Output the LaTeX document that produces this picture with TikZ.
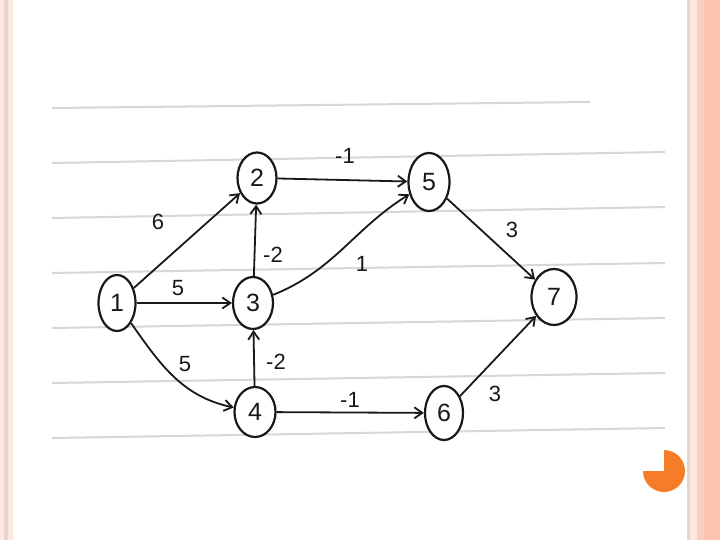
\documentclass[tikz,border=0pt]{standalone}
\usepackage{fontspec}
\setmainfont{Liberation Sans}
\usetikzlibrary{shapes.geometric,arrows.meta}
\definecolor{salmon}{RGB}{251,196,176}
\definecolor{palepink}{RGB}{253,232,224}
\definecolor{stripe}{RGB}{232,212,206}
\definecolor{rule}{RGB}{215,215,215}
\definecolor{pie}{RGB}{245,125,40}
\definecolor{ink}{RGB}{25,25,25}
\tikzset{
  vert/.style={draw=ink, line width=2.2pt, ellipse, inner sep=0pt, font=\fontsize{25}{27}\selectfont, text=ink, fill=white},
  edge/.style={draw=ink, line width=1.8pt, -{Straight Barb[length=8pt,width=11pt]}},
  wlab/.style={font=\fontsize{22}{24}\selectfont, text=ink},
  ruled/.style={draw=rule, line width=2pt}
}
\begin{document}
\begin{tikzpicture}[x=1pt,y=-1pt]
\useasboundingbox (0,0) rectangle (720,540);
\fill[white] (0,0) rectangle (720,540);
% borders
\fill[palepink] (0,0) rectangle (13,540);
\fill[stripe] (4,0) rectangle (8,540);
\fill[stripe] (687,0) rectangle (690,540);
\fill[palepink] (690,0) rectangle (697,540);
\fill[salmon!80!white] (697,0) rectangle (704,540);
\fill[salmon] (704,0) rectangle (720,540);
% ruled lines
\draw[ruled] (52,108) -- (590,102);
\draw[ruled] (52,163) -- (665,152);
\draw[ruled] (52,218) -- (665,207);
\draw[ruled] (52,273) -- (665,263);
\draw[ruled] (52,328) -- (665,318);
\draw[ruled] (52,383) -- (665,373);
\draw[ruled] (52,438) -- (665,428);
% pie
\fill[pie] (664,471) -- ++(0,-21) arc[start angle=-90, end angle=180, radius=21] -- cycle;
% nodes
\node[vert, minimum width=37pt, minimum height=56pt] (n1) at (117,303) {1};
\node[vert, minimum width=39pt, minimum height=51pt] (n2) at (257,178) {2};
\node[vert, minimum width=40pt, minimum height=52pt] (n3) at (253,303) {3};
\node[vert, minimum width=41pt, minimum height=50pt] (n4) at (255,412) {4};
\node[vert, minimum width=41pt, minimum height=58pt] (n5) at (429,182) {5};
\node[vert, minimum width=38pt, minimum height=54pt] (n6) at (444,413) {6};
\node[vert, minimum width=45pt, minimum height=56pt] (n7) at (554,297) {7};
% edges
\draw[edge] (n1) -- (n2);
\draw[edge] (n1) -- (n3);
\draw[edge] (n1) to[out=-55,in=168] (n4);
\draw[edge] (n3) -- (n2);
\draw[edge] (n4) -- (n3);
\draw[edge] (n2) -- (n5);
\draw[edge] (n3) to[out=22,in=-148] (n5);
\draw[edge] (n4) -- (n6);
\draw[edge] (n5) -- (n7);
\draw[edge] (n6) -- (n7);
% labels
\node[wlab] (l12) at (158,222) {6};
\node[wlab] (l13) at (178,288) {5};
\node[wlab] (l14) at (185,364) {5};
\node[wlab] (l32) at (273,255) {-2};
\node[wlab] (l43) at (276,362) {-2};
\node[wlab] (l25) at (345,156) {-1};
\node[wlab] (l35) at (362,264) {1};
\node[wlab] (l46) at (350,400) {-1};
\node[wlab] (l57) at (512,230) {3};
\node[wlab] (l67) at (495,394) {3};
\end{tikzpicture}
\end{document}
